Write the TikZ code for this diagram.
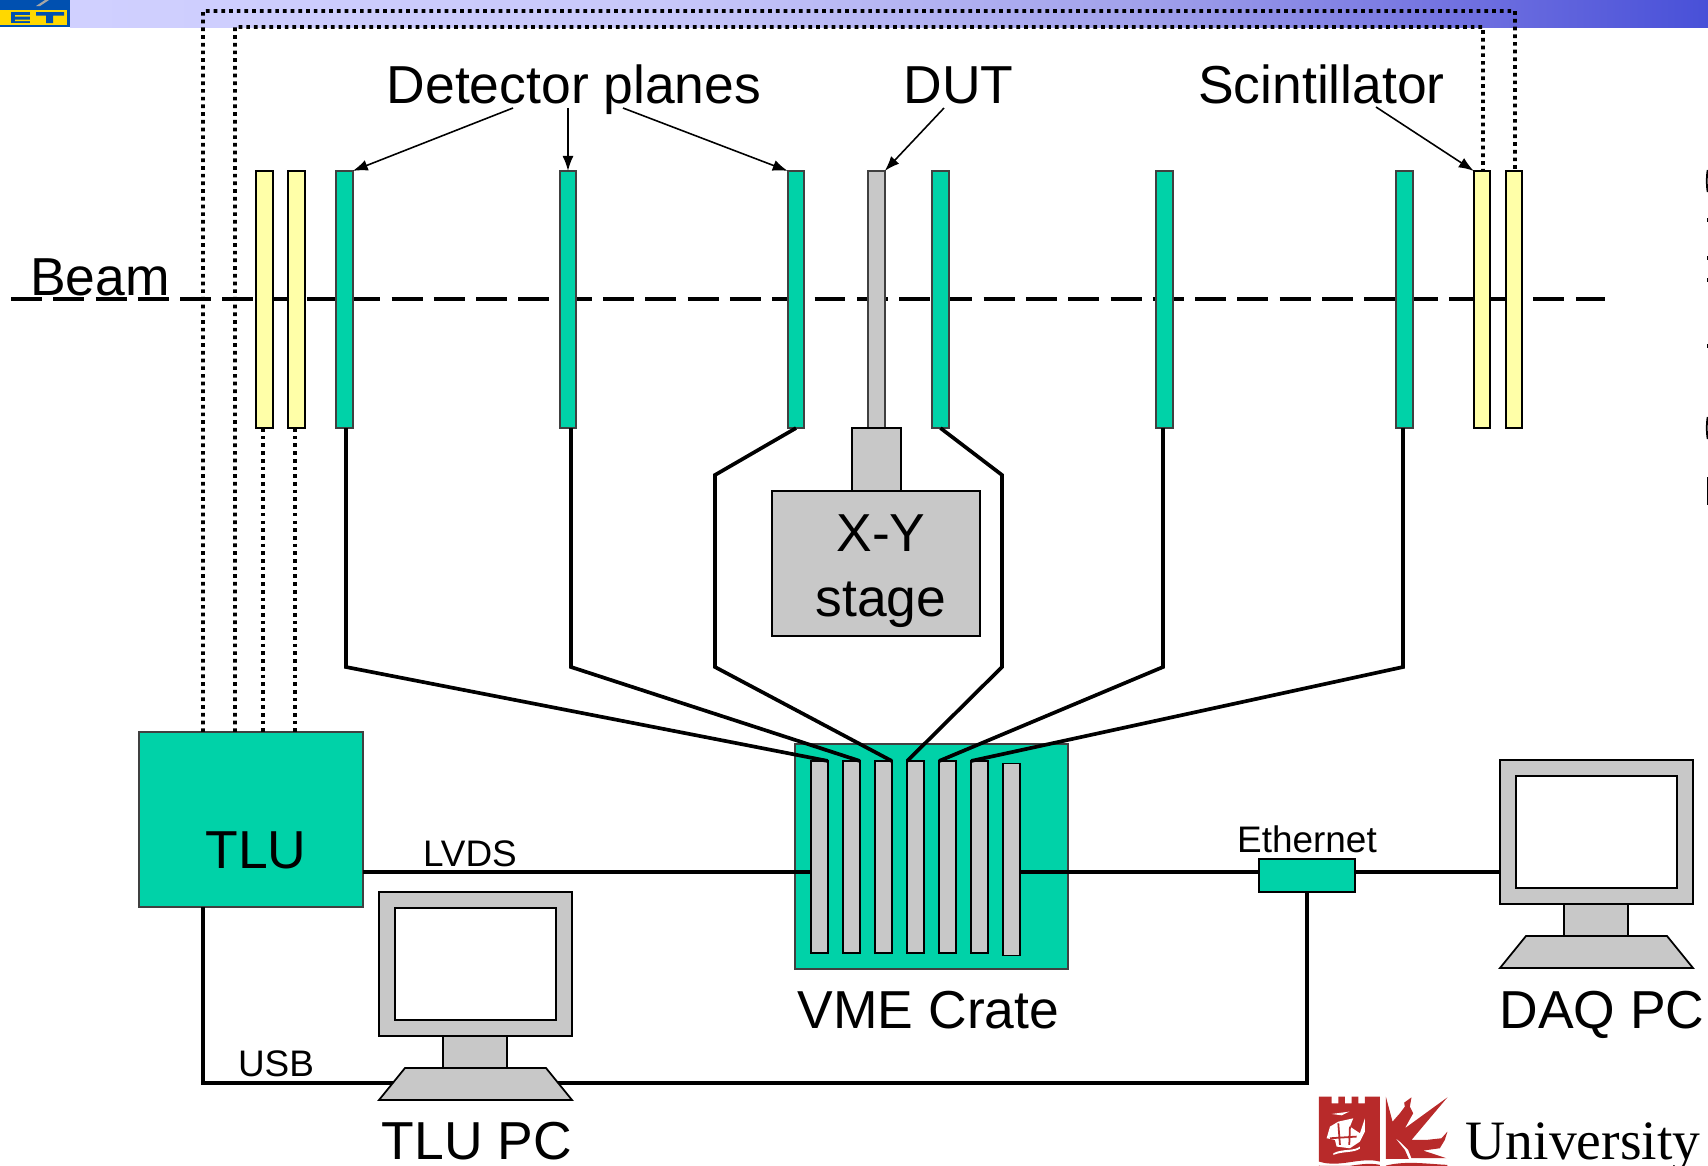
\documentclass[tikz,border=0pt]{standalone}
\usepackage{fontspec}
\setmainfont{Liberation Sans}
\newfontfamily\crestfont{Liberation Serif}
\usetikzlibrary{arrows.meta}
\definecolor{planegreen}{HTML}{00D2A8}
\definecolor{scintyellow}{HTML}{FFFFA8}
\definecolor{boxgrey}{HTML}{C8C8C8}
\definecolor{crestred}{HTML}{B82A2A}
\definecolor{logoblue}{HTML}{0050B0}
\definecolor{logoyellow}{HTML}{FFD800}
\pgfdeclarehorizontalshading{bandshade}{100bp}{
  rgb(0bp)=(0.816,0.816,1);
  rgb(25bp)=(0.816,0.816,1);
  rgb(43bp)=(0.784,0.784,0.98);
  rgb(58bp)=(0.627,0.627,0.92);
  rgb(67bp)=(0.45,0.45,0.88);
  rgb(75bp)=(0.282,0.314,0.847);
  rgb(100bp)=(0.282,0.314,0.847)}
\tikzset{
  bar/.style={draw, inner sep=0pt, outer sep=0pt, line width=0.45pt,
              minimum width=0.165cm, minimum height=2.57cm},
  plane/.style={bar, fill=planegreen, draw=black!75},
  scint/.style={bar, fill=scintyellow, draw=black},
  dut/.style={bar, fill=boxgrey, draw=black!75},
  slot/.style={bar, fill=boxgrey, draw=black, minimum height=1.92cm},
  greybox/.style={draw=black, fill=boxgrey, line width=0.5pt, inner sep=0pt, outer sep=0pt},
  greenbox/.style={draw=black!75, fill=planegreen, line width=0.5pt, inner sep=0pt, outer sep=0pt},
  wire/.style={line width=1.05pt},
  trigline/.style={line width=1.05pt, dash pattern=on 1.05pt off 1.14pt},
  pointer/.style={line width=0.45pt, -{Latex[length=0.15cm, width=0.11cm]}},
  biglabel/.style={anchor=base, inner sep=0pt, font=\fontsize{15.2}{18}\selectfont},
  smalllabel/.style={anchor=base, inner sep=0pt, font=\fontsize{10.5}{12}\selectfont},
}
\begin{document}
\begin{tikzpicture}[x=0.01cm, y=-0.01cm]
    \useasboundingbox (0,0) rectangle (1708,1166);

    \shade[shading=bandshade] (70,0) rectangle (1708,27);
    \fill[logoblue] (0,0) rectangle (70,27);
    \fill[logoyellow] (0,10) rectangle (67,25);
    \fill[black!35] (36,6) -- (45,0) -- (49,0) -- (40,6) -- cycle;
    \fill[logoblue] (11,12) rectangle (30,23);
    \fill[logoyellow] (15,15) rectangle (30,16.5) (15,19.5) rectangle (30,21);
    \fill[logoblue] (36,12) rectangle (64,15.5) (46,15) rectangle (53,23);

    \draw[line width=1.15pt, dash pattern=on 8.8pt off 3.226pt] (11,299) -- (1605,299);

    \node[scint] (scintA) at (264.5,299.5) {};
    \node[scint] (scintB) at (296.5,299.5) {};
    \node[plane] (plane1) at (344.5,299.5) {};
    \node[plane] (plane2) at (568,299.5) {};
    \node[plane] (plane3) at (796,299.5) {};
    \node[dut]   (dutbar) at (876.5,299.5) {};
    \node[plane] (plane4) at (940.5,299.5) {};
    \node[plane] (plane5) at (1164.5,299.5) {};
    \node[plane] (plane6) at (1404.5,299.5) {};
    \node[scint] (scintC) at (1482,299.5) {};
    \node[scint] (scintD) at (1514,299.5) {};

    \node[greybox, minimum width=0.49cm, minimum height=0.63cm] (neck) at (876.5,459.5) {};
    \node[greybox, minimum width=2.08cm, minimum height=1.45cm] (stage) at (876,563.5) {};
    \node[biglabel] (xylabel) at (881,551) {X-Y};
    \node[biglabel] (stagelabel) at (881,616) {stage};

    \node[greenbox, minimum width=2.24cm, minimum height=1.75cm] (tlu) at (251,819.5) {};
    \node[biglabel] (tlulabel) at (256,868) {TLU};

    \node[greenbox, minimum width=2.73cm, minimum height=2.25cm] (crate) at (931.5,856.5) {};
    \foreach \n/\sx in {1/819.5, 2/851.5, 3/883.5, 4/915.5, 5/947.5, 6/979.5}
        \node[slot] (slot\n) at (\sx,857) {};
    \node[slot] (slot7) at (1011.5,859.5) {};
    \node[biglabel] (cratelabel) at (928.5,1028) {VME Crate};

    \node[greenbox, draw=black, minimum width=0.96cm, minimum height=0.33cm] (hub) at (1307,875.5) {};
    \node[smalllabel] (ethlabel) at (1307,852) {Ethernet};

    \draw[trigline] ([xshift=-0.48cm]tlu.north) -- (203,11) -- (1515,11) -- (1515,171);
    \draw[trigline] ([xshift=-0.16cm]tlu.north) -- (235,27) -- (1483,27) -- (1483,171);
    \draw[trigline] ([xshift=-0.015cm]scintA.south) -- ([xshift=-0.015cm]scintA.south |- tlu.north);
    \draw[trigline] ([xshift=-0.015cm]scintB.south) -- ([xshift=-0.015cm]scintB.south |- tlu.north);

    \draw[wire] ([xshift=0.015cm]plane1.south) -- (346,667) -- (slot1.north east);
    \draw[wire] ([xshift=0.03cm]plane2.south) -- (571,667) -- (slot2.north east);
    \draw[wire] (plane3.south) -- (715,475) -- (715,667) -- (slot3.north east);
    \draw[wire] (plane4.south) -- (1002,475) -- (1002,667) -- (slot4.north west);
    \draw[wire] ([xshift=-0.015cm]plane5.south) -- (1163,667) -- (slot5.north west);
    \draw[wire] ([xshift=-0.015cm]plane6.south) -- (1403,667) -- (slot6.north west);

    \draw[wire] (tlu.east |- 0,872) -- ([yshift=-0.15cm]slot1.west);
    \node[smalllabel] (lvdslabel) at (470,866) {LVDS};
    \draw[wire] ([yshift=-0.125cm]slot7.east) -- ([yshift=0.035cm]hub.west);
    \draw[wire] ([xshift=-0.48cm]tlu.south) -- (203,1083) -- (hub.south |- 0,1083) -- (hub.south);
    \node[smalllabel] (usblabel) at (276,1076) {USB};

    \foreach \pc/\dx/\dy in {tlu/0/0, daq/1121/-132} {
        \begin{scope}[shift={(\dx,\dy)}]
            \node[greybox, minimum width=1.93cm, minimum height=1.44cm] (mon\pc) at (475.5,964) {};
            \node[greybox, fill=white, minimum width=1.61cm, minimum height=1.12cm] (screen\pc) at (475.5,964) {};
            \node[greybox, minimum width=0.64cm, minimum height=0.32cm] (stem\pc) at (475,1052) {};
            \draw[greybox] (405,1068) -- (546,1068) -- (572,1100) -- (379,1100) -- cycle;
        \end{scope}
    }
    \draw[wire] ([yshift=0.035cm]hub.east) -- (mondaq.west |- 0,872);
    \node[biglabel] (tlupclabel) at (477,1159) {TLU PC};
    \node[biglabel] (daqpclabel) at (1602,1028) {DAQ PC};

    \node[biglabel] (beamlabel) at (100,295) {Beam};
    \node[biglabel] (planeslabel) at (574,103) {Detector planes};
    \node[biglabel] (dutlabel) at (958.5,103) {DUT};
    \node[biglabel] (scintlabel) at (1321.5,103) {Scintillator};

    \draw[pointer] (513,108) -- (plane1.north east);
    \draw[pointer] (568,108) -- (plane2.north);
    \draw[pointer] (623,108) -- (plane3.north west);
    \draw[pointer] (944,108) -- (dutbar.north east);
    \draw[pointer] (1376,107) -- (scintC.north west);

    \draw[line width=0.5pt] (1707.7,170) .. controls (1706.5,176) and (1706.5,186) .. (1707.7,192);
    \draw[line width=0.5pt] (1707.7,417) .. controls (1706.5,423) and (1706.5,433) .. (1707.7,439);
    \draw[line width=0.4pt] (1707.5,477) -- (1707.5,505);
    \foreach \ty in {220, 258, 280, 346}
        \draw[line width=0.4pt] (1707.5,\ty-2) -- (1707.5,\ty+2);

    \begin{scope}[shift={(1310,1090)}, x=0.00333cm, y=-0.00333cm]
        \fill[crestred] (27,20) -- (65,20) -- (65,40) -- (85,40) -- (85,20) -- (105,20) -- (105,40)
            -- (125,40) -- (125,20) -- (145,20) -- (145,40) -- (165,40) -- (165,20) -- (210,20)
            -- (210,215) .. controls (150,200) and (90,235) .. (27,215) -- cycle;
        \fill[crestred] (27,227) .. controls (90,245) and (150,212) .. (210,225) -- (210,228) -- (27,228) -- cycle;
        \fill[white] (50,145) -- (60,110) -- (85,95) -- (130,85) -- (120,110) -- (150,130) -- (165,85)
            -- (165,125) -- (150,155) -- (120,175) -- (80,170) -- (75,150) -- cycle;
        \fill[white] (65,72) -- (118,65) -- (95,76) -- cycle;
        \fill[white] (70,190) .. controls (100,175) and (130,185) .. (150,170) -- (150,176) .. controls (130,190) and (100,183) .. (70,195) -- cycle;
        \draw[crestred, line width=0.5pt] (85,100) -- (90,165) (120,110) -- (118,165) (60,145) -- (140,140);
        \fill[crestred] (228,20) -- (248,95) -- (270,70) -- (285,50) -- (283,38) -- (305,22) -- (300,50)
            -- (310,70) -- (285,115) -- (413,22) -- (305,150) -- (350,150) -- (395,145) -- (413,125)
            -- (405,150) -- (390,175) -- (340,182) -- (410,205) -- (305,205) -- (295,180) -- (270,155)
            -- (255,143) -- (285,180) -- (297,207) -- (228,207) -- cycle;
        \fill[crestred] (228,227) .. controls (290,212) and (350,222) .. (413,225) -- (413,228) -- (228,228) -- cycle;
    \end{scope}
    \node[anchor=base west, inner sep=0pt, font=\crestfont\fontsize{15.8}{18}\selectfont] (crestlabel) at (1465,1159) {University};
\end{tikzpicture}
\end{document}
